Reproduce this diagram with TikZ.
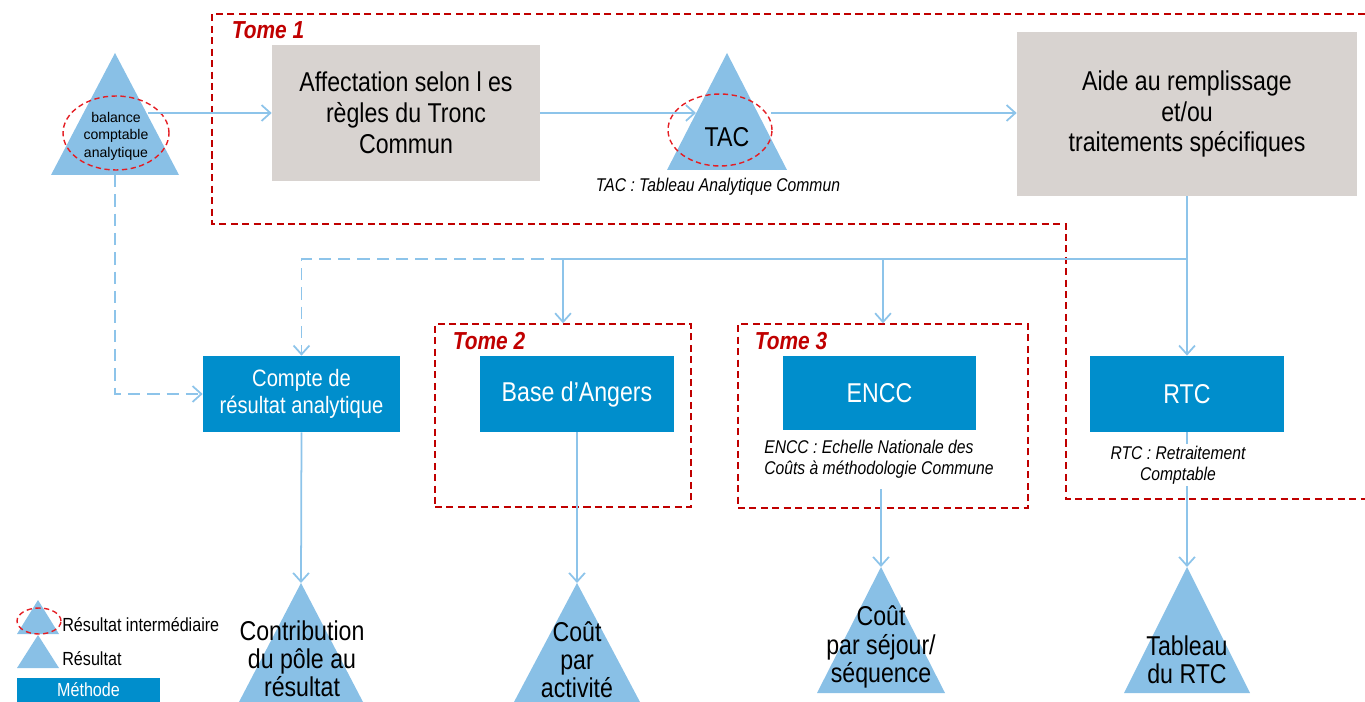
\documentclass[tikz,border=0pt]{standalone}
\usepackage{fontspec}
\setmainfont{Liberation Sans}[FakeStretch=0.85]
\newfontfamily\plainfont{Liberation Sans}
\usetikzlibrary{arrows.meta}

\definecolor{triblue}{RGB}{137,192,230}
\definecolor{boxblue}{RGB}{0,142,204}
\definecolor{graybox}{RGB}{216,211,208}
\definecolor{lineblue}{RGB}{141,196,234}
\definecolor{tomered}{RGB}{192,0,0}
\definecolor{ovalred}{RGB}{228,30,36}

\tikzset{
  gbox/.style={fill=graybox, align=center, font=\fontsize{15.5}{17.6}\selectfont},
  mbox/.style={fill=boxblue, text=white, align=center, minimum height=1.52cm, minimum width=3.88cm},
  tri/.style={fill=triblue},
  res/.style={align=center, font=\fontsize{15.5}{16}\selectfont},
  flow/.style={draw=lineblue, line width=1pt},
  dflow/.style={flow, dash pattern=on 7pt off 4pt},
  tomebox/.style={draw=tomered, line width=0.8pt, dash pattern=on 4pt off 2.5pt},
  tomelbl/.style={text=tomered, font=\fontsize{14}{16}\selectfont\bfseries\itshape},
  oval/.style={draw=ovalred, line width=0.8pt, dash pattern=on 3pt off 2pt},
  note/.style={align=center, font=\fontsize{10.5}{12}\selectfont\itshape}
}

\begin{document}
\begin{tikzpicture}[x=0.02cm, y=-0.02cm, >={Straight Barb[length=5pt,width=9pt]}]
\useasboundingbox (0,0) rectangle (1365,702);

% Tome 1
\draw[tomebox] (1365,14) -- (212,14) -- (212,224) -- (1066,224) -- (1066,499) -- (1365,499);
\node[tomelbl] (t1) at (268,30) {Tome 1};

% Tome 2 et 3
\node[tomebox, minimum width=5.12cm, minimum height=3.66cm] (tomeII) at (563,415.5) {};
\node[tomelbl] (t2) at (489,341) {Tome 2};
\node[tomebox, minimum width=5.8cm, minimum height=3.68cm] (tomeIII) at (883,416) {};
\node[tomelbl] (t3) at (791,341) {Tome 3};

% balance
\fill[tri] (115,53) -- (179,175) -- (51,175) -- cycle;
\node[align=center, font=\plainfont\fontsize{8}{9.9}\selectfont] (bal) at (116,136) {balance\\comptable\\analytique};
\draw[oval] (116,133) ellipse [x radius=1.06cm, y radius=0.74cm];
\coordinate (balR) at (148,113);
\coordinate (balB) at (115,175);

% haut
\node[gbox, minimum width=5.36cm, minimum height=2.72cm] (aff) at (406,113) {Affectation selon l es\\règles du Tronc\\Commun};
\node[gbox, minimum width=6.8cm, minimum height=3.28cm] (aide) at (1187,114) {Aide au remplissage\\et/ou\\traitements spécifiques};

\fill[tri] (727,53) -- (787,170) -- (667,170) -- cycle;
\node[font=\fontsize{15.5}{17.6}\selectfont] (tac) at (727,137) {TAC};
\draw[oval] (720,130) ellipse [x radius=1.04cm, y radius=0.72cm];
\coordinate (tacL) at (696,113);
\coordinate (tacR) at (771,113);
\node[note] (tacnote) at (718,187) {TAC : Tableau Analytique Commun};

\draw[flow,->] (balR) -- (aff.west);
\draw[flow,->] (aff.east) -- (tacL);
\draw[flow,->] (tacR) -- (aide.west |- tacR);

% methodes
\node[mbox, minimum width=3.94cm, font=\fontsize{13.5}{15.3}\selectfont] (crpa) at (301.5,394) {Compte de\\résultat analytique};
\node[mbox, font=\fontsize{15.5}{17.6}\selectfont] (angers) at (577,394) {Base d’Angers};
\node[mbox, minimum width=3.86cm, minimum height=1.48cm, font=\fontsize{15.5}{17.6}\selectfont] (encc) at (879.5,393) {ENCC};
\node[mbox, font=\fontsize{15.5}{17.6}\selectfont] (rtc) at (1187,394) {RTC};

\node[note, align=left, anchor=north west, inner sep=0pt] (enccnote) at (764,440) {ENCC : Echelle Nationale des\\Coûts à méthodologie Commune};
\coordinate (enccOut) at (881,489);

% bus
\coordinate (bus) at (aide.south |- 0,259);
\coordinate (j2) at (tomeII.north |- bus);
\coordinate (j3) at (tomeIII.north |- bus);
\draw[dflow,->] (j2) -| (crpa.north);
\draw[dflow,->] (balB) |- (crpa.west);
\draw[flow] (aide.south) -- (bus) -- (j2);
\draw[flow,->] (j2) -- (tomeII.north);
\draw[flow,->] (j3) -- (tomeIII.north);
\draw[flow,->] (bus) -- (rtc.north);

% resultats
\fill[tri] (301,583) -- (363,702) -- (239,702) -- cycle;
\coordinate (contribT) at (301,583);
\node[res] (contrib) at (302,659) {Contribution\\du pôle au\\résultat};

\fill[tri] (577,583) -- (640,702) -- (514,702) -- cycle;
\coordinate (coutT) at (577,583);
\node[res] (cout) at (577,660) {Coût\\par\\activité};

\fill[tri] (881,567) -- (945,693) -- (817,693) -- cycle;
\coordinate (sejT) at (881,567);
\node[res] (sej) at (881,647) {Coût\\par séjour/\\séquence};

\fill[tri] (1187,567) -- (1250,693) -- (1124,693) -- cycle;
\coordinate (tabT) at (1187,567);
\node[res] (tab) at (1187,660) {Tableau\\du RTC};

\draw[flow,->] (crpa.south) -- (contribT);
\draw[flow,->] (angers.south) -- (coutT);
\draw[flow,->] (enccOut) -- (sejT);
\draw[flow,->] (rtc.south) -- (tabT);
\node[note, fill=white, inner sep=1pt] (rtcnote) at (1178,465) {RTC : Retraitement\\Comptable};

% legende
\fill[tri] (38,600) -- (59,634) -- (17,634) -- cycle;
\draw[oval] (39,621) ellipse [x radius=0.44cm, y radius=0.26cm];
\node[anchor=west, inner sep=0pt, font=\fontsize{10.8}{12}\selectfont] (lgint) at (62,625) {Résultat intermédiaire};
\fill[tri] (38,635) -- (59,668) -- (17,668) -- cycle;
\node[anchor=west, inner sep=0pt, font=\fontsize{10.8}{12}\selectfont] (lgres) at (62,659) {Résultat};
\node[fill=boxblue, text=white, minimum width=2.86cm, minimum height=0.5cm, inner sep=0pt, font=\fontsize{10.8}{12}\selectfont] (lgmeth) at (88.5,690) {Méthode};

\end{tikzpicture}
\end{document}
